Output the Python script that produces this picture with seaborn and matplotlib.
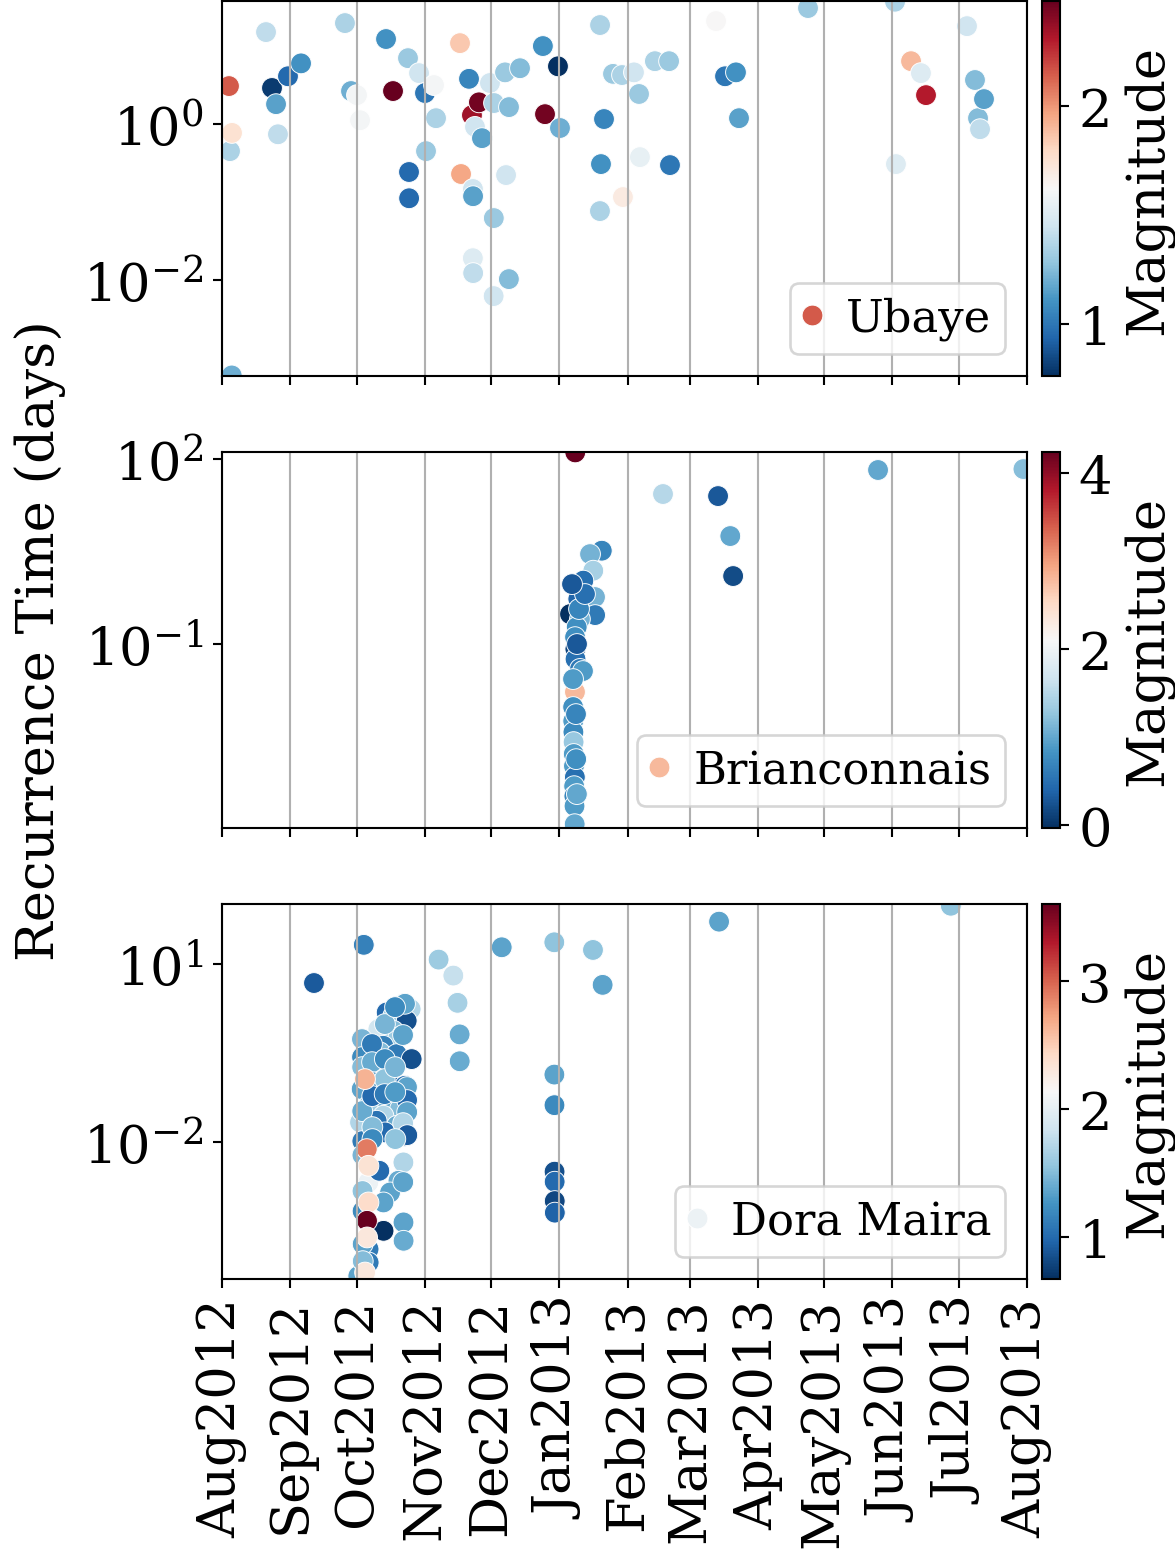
import numpy as np
import pandas as pd
import matplotlib
matplotlib.use("Agg")
import matplotlib.pyplot as plt
import matplotlib.dates as mdates
from matplotlib.colors import Normalize
from matplotlib.cm import ScalarMappable
from matplotlib.lines import Line2D
from matplotlib.ticker import NullLocator
import seaborn as sns

# ---------------------------------------------------------------- data
ubaye_time = [
    "2012-08-04 04:00", "2012-08-04 15:00", "2012-08-05 10:00", "2012-08-05 13:00",
    "2012-08-20 23:00", "2012-08-23 16:00", "2012-08-25 12:00", "2012-08-26 09:00",
    "2012-08-30 22:00", "2012-09-05 20:00", "2012-09-25 18:00", "2012-09-28 12:00",
    "2012-10-01 05:00", "2012-10-02 14:00", "2012-10-14 09:00", "2012-10-17 13:00",
    "2012-10-24 08:00", "2012-10-24 19:00", "2012-10-24 20:00", "2012-10-29 08:00",
    "2012-11-01 01:00", "2012-11-01 12:00", "2012-11-05 03:00", "2012-11-06 01:00",
    "2012-11-16 22:00", "2012-11-17 09:00", "2012-11-21 00:00", "2012-11-22 08:00",
    "2012-11-22 18:00", "2012-11-22 19:00", "2012-11-22 20:00", "2012-11-22 21:00",
    "2012-11-23 17:00", "2012-11-25 12:00", "2012-11-26 21:00", "2012-11-30 12:00",
    "2012-12-02 04:00", "2012-12-02 06:00", "2012-12-02 08:00", "2012-12-07 08:00",
    "2012-12-07 19:00", "2012-12-09 02:00", "2012-12-09 03:00", "2012-12-14 03:00",
    "2012-12-24 12:00", "2012-12-25 11:00", "2012-12-31 08:00", "2013-01-01 06:00",
    "2013-01-19 09:00", "2013-01-19 10:00", "2013-01-19 20:00", "2013-01-21 05:00",
    "2013-01-25 07:00", "2013-01-29 09:00", "2013-01-29 19:00", "2013-02-03 19:00",
    "2013-02-06 02:00", "2013-02-06 12:00", "2013-02-13 07:00", "2013-02-19 17:00",
    "2013-02-20 03:00", "2013-03-13 00:00", "2013-03-17 02:00", "2013-03-22 01:00",
    "2013-03-23 10:00", "2013-04-23 17:00", "2013-06-02 04:00", "2013-06-02 14:00",
    "2013-06-09 10:00", "2013-06-13 22:00", "2013-06-16 05:00", "2013-07-04 19:00",
    "2013-07-08 10:00", "2013-07-09 19:00", "2013-07-10 17:00", "2013-07-12 12:00",
]
ubaye_recurrence = [
    3.07, 0.45, 6.0e-4, 0.77,
    15.1, 2.9, 1.8, 0.74,
    4.1, 6.0, 19.7, 2.65,
    2.35, 1.12, 12.3, 2.65,
    7.0, 0.243, 0.112, 4.5,
    2.5, 0.45, 3.16, 1.19,
    10.9, 0.229, 3.8, 1.30,
    0.0191, 0.147, 0.119, 0.0123,
    0.92, 1.9, 0.66, 3.36,
    0.00624, 0.0624, 1.86, 4.6,
    0.222, 0.0103, 1.65, 5.2,
    10.0, 1.34, 5.5, 0.89,
    0.0767, 18.6, 0.307, 1.16,
    4.4, 4.25, 0.116, 4.6,
    2.43, 0.377, 6.4, 6.4,
    0.298, 20.9, 4.1, 4.6,
    1.19, 30.7, 37.0, 0.307,
    6.4, 4.5, 2.35, 18.0,
    3.67, 1.19, 0.86, 2.09,
]
ubaye_magnitude = [
    2.15, 1.35, 1.2, 1.75,
    1.4, 0.8, 1.15, 1.4,
    0.95, 1.1, 1.35, 1.2,
    1.6, 1.6, 1.1, 2.48,
    1.3, 0.95, 0.95, 1.45,
    1.0, 1.3, 1.6, 1.35,
    1.85, 1.95, 1.05, 2.35,
    1.5, 1.45, 1.15, 1.4,
    1.45, 2.45, 1.15, 1.45,
    1.45, 1.3, 1.35, 1.3,
    1.45, 1.25, 1.25, 1.25,
    1.1, 2.45, 0.76, 1.2,
    1.35, 1.35, 1.1, 1.05,
    1.3, 1.35, 1.7, 1.45,
    1.3, 1.55, 1.35, 1.3,
    1.0, 1.62, 1.0, 1.1,
    1.15, 1.3, 1.35, 1.5,
    1.9, 1.5, 2.3, 1.45,
    1.25, 1.25, 1.4, 1.15,
]

brian_time = [
    "2013-01-08 01:00", "2013-01-08 04:00", "2013-01-20 05:00", "2013-01-14 21:00",
    "2013-01-16 08:00", "2013-01-11 20:00", "2013-01-17 03:00", "2013-01-09 13:00",
    "2013-01-05 19:00", "2013-01-17 04:00", "2013-01-10 07:00", "2013-01-08 20:00",
    "2013-01-08 02:00", "2013-01-08 05:00", "2013-01-08 07:00", "2013-01-10 08:00",
    "2013-01-11 16:00", "2013-01-07 04:00", "2013-01-07 05:00", "2013-01-07 06:00",
    "2013-01-07 08:00", "2013-01-07 10:00", "2013-01-07 12:00", "2013-01-07 14:00",
    "2013-01-08 00:00", "2013-01-07 16:00", "2013-01-07 18:00", "2013-01-07 20:00",
    "2013-01-07 22:00", "2013-01-08 23:00", "2013-01-09 21:00",
    "2013-01-08 12:00", "2013-01-08 14:00", "2013-01-08 22:00", "2013-01-12 14:00",
    "2013-01-06 17:00", "2013-02-16 23:00", "2013-03-13 22:00", "2013-03-19 11:00",
    "2013-03-20 18:00", "2013-05-25 11:00", "2013-07-30 09:00",
]
brian_recurrence = [
    0.0168, 128.0, 3.27, 2.88,
    1.55, 1.07, 0.58, 0.54,
    0.307, 0.296, 0.255, 0.189,
    0.130, 0.0833, 0.0574, 0.0397,
    0.0367, 0.0272, 0.00957, 0.00568,
    0.00376, 0.00259, 0.00166, 0.00106,
    7.0e-4, 5.0e-4, 3.45e-4, 2.38e-4,
    1.21e-4, 0.1005, 0.371,
    0.00736, 0.00137, 3.72e-4, 0.649,
    0.94, 27.1, 25.1, 5.65,
    1.27, 66.4, 68.8,
]
brian_magnitude = [
    2.8, 4.24, 0.7, 1.1,
    1.4, 0.5, 1.1, 0.4,
    -0.03, 0.6, 1.1, 0.8,
    0.8, 0.15, 0.5, 0.6,
    0.9, 0.9, 0.8, 0.9,
    0.75, 1.3, 0.9, 0.9,
    0.5, 0.9, 0.7, 0.9,
    1.0, 0.3, 0.7,
    0.7, 0.8, 1.0, 0.5,
    0.3, 1.5, 0.3, 1.0,
    0.2, 1.0, 1.2,
]

dora_time = [
    "2012-10-06 08:00",
    "2012-09-11 17:00", "2012-10-04 07:00", "2012-11-07 05:00", "2012-11-13 21:00",
    "2012-11-15 19:00", "2012-11-16 18:00", "2012-11-16 19:00", "2012-12-05 20:00",
    "2012-12-29 16:00", "2012-12-29 17:00", "2012-12-29 18:00", "2012-12-29 19:00",
    "2012-12-29 20:00", "2012-12-29 21:00", "2012-12-29 22:00", "2013-01-16 05:00",
    "2013-01-20 14:00", "2013-03-14 09:00", "2013-06-27 11:00",
    "2012-10-22 05:00", "2012-10-25 13:00", "2012-10-14 16:00", "2012-10-17 16:00",
    "2012-10-23 18:00", "2012-10-10 21:00", "2012-10-17 17:00", "2012-10-19 23:00",
    "2012-10-13 03:00", "2012-10-07 21:00", "2012-10-11 15:00", "2012-10-19 05:00",
    "2012-10-26 00:00", "2012-10-05 15:00", "2012-10-16 04:00", "2012-10-09 09:00",
    "2012-10-16 23:00", "2012-10-22 23:00", "2012-10-03 08:00", "2012-10-11 16:00",
    "2012-10-23 00:00", "2012-10-06 09:00", "2012-10-15 10:00", "2012-10-20 17:00",
    "2012-10-13 04:00", "2012-10-10 03:00", "2012-10-19 06:00", "2012-10-05 16:00",
    "2012-10-13 22:00", "2012-10-22 22:00", "2012-10-05 17:00", "2012-10-02 14:00",
    "2012-10-11 08:00", "2012-10-22 06:00", "2012-10-20 00:00", "2012-10-16 05:00",
    "2012-10-13 05:00", "2012-10-13 06:00", "2012-10-22 07:00", "2012-10-22 08:00",
    "2012-10-06 11:00", "2012-10-06 12:00", "2012-10-01 19:00",
    "2012-10-22 23:30", "2012-10-22 02:00", "2012-10-23 21:00", "2012-10-23 22:00",
    "2012-10-23 23:00", "2012-10-22 03:00", "2012-10-24 00:00", "2012-10-22 04:00",
    "2012-10-03 11:00", "2012-10-03 12:00", "2012-10-03 13:00", "2012-10-03 14:00",
    "2012-10-03 15:00", "2012-10-03 16:00", "2012-10-03 17:00", "2012-10-03 18:00",
    "2012-10-03 19:00", "2012-10-03 20:00",
    "2012-10-08 00:00", "2012-10-08 01:00", "2012-10-08 02:00", "2012-10-08 03:00",
    "2012-10-08 04:00", "2012-10-08 05:00",
    "2012-10-13 21:00", "2012-10-13 20:00", "2012-10-13 19:00", "2012-10-13 18:00",
    "2012-10-18 11:00", "2012-10-18 12:00", "2012-10-18 13:00", "2012-10-18 14:00",
    "2012-10-04 20:00", "2012-10-05 15:30", "2012-10-06 09:30", "2012-10-06 10:00",
    "2012-10-05 18:00", "2012-10-05 19:00", "2012-10-04 21:00",
]
dora_recurrence = [
    0.00208,
    4.79, 21.1, 11.9, 6.40,
    2.22, 0.652, 0.230, 19.2,
    23.3, 0.137, 0.0418, 0.00316,
    0.00214, 0.00101, 6.44e-4, 17.3,
    4.46, 51.9, 96.2,
    2.12, 1.74, 1.53, 1.34,
    1.106, 0.80, 0.75, 0.58,
    0.419, 0.369, 0.324, 0.303,
    0.250, 0.234, 0.159, 0.131,
    0.0887, 0.0887, 0.078, 0.0528,
    0.0495, 0.0407, 0.0407, 0.0359,
    0.0277, 0.0228, 0.01876, 0.01876,
    0.01452, 0.01273, 0.01273, 0.02143,
    0.00327, 0.00453, 0.00222, 0.00141,
    9.57e-4, 3.18e-4, 4.41e-4, 2.16e-4,
    1.56e-4, 9.3e-5, 5.5e-5,
    2.14, 0.636, 0.0843, 0.0509,
    0.0319, 0.0208, 0.01306, 0.00211,
    0.543, 0.270, 0.183, 0.0332,
    0.01035, 0.00601, 0.00149, 6.84e-4,
    1.90e-4, 9.8e-5,
    0.448, 0.222, 0.1023, 0.0594,
    0.01782, 0.0112,
    0.973, 0.250, 0.115, 0.0642,
    1.88, 0.183, 0.0693, 0.0112,
    0.115, 0.00759, 0.00397, 9.57e-4,
    4.69e-4, 2.46e-4, 6.3e-5,
]
dora_magnitude = [
    2.05,
    0.9, 1.15, 1.6, 1.8,
    1.65, 1.4, 1.4, 1.35,
    1.55, 1.35, 1.2, 0.85,
    1.0, 0.8, 0.95, 1.55,
    1.35, 1.35, 1.55,
    1.6, 1.7, 1.0, 1.6,
    0.85, 1.85, 1.5, 1.6,
    1.15, 1.35, 1.5, 1.1,
    0.85, 1.65, 1.0, 1.35,
    0.9, 1.05, 1.35, 1.5,
    0.85, 1.6, 1.35, 1.5,
    1.7, 1.05, 1.4, 1.15,
    1.0, 0.85, 1.35, 1.7,
    1.0, 1.7, 1.4, 1.35,
    1.35, 0.67, 1.35, 1.4,
    1.1, 1.1, 1.35,
    1.35, 1.35, 1.35, 1.0,
    1.35, 1.7, 0.9, 1.35,
    1.45, 1.2, 1.5, 1.4,
    1.1, 1.45, 1.55, 1.2,
    1.35, 1.5,
    1.1, 1.4, 1.2, 1.0,
    1.5, 1.2,
    1.45, 1.2, 1.55, 1.1,
    1.2, 1.45, 1.3, 1.55,
    2.65, 2.9, 2.35, 2.4,
    3.6, 2.3, 2.3,
]

region_names = ["Ubaye", "Brianconnais", "Dora Maira"]
region_times = [ubaye_time, brian_time, dora_time]
region_recurrence = [ubaye_recurrence, brian_recurrence, dora_recurrence]
region_magnitude = [ubaye_magnitude, brian_magnitude, dora_magnitude]
region_ylim = [(5.9e-4, 37.8), (1.05e-4, 130.0), (4.9e-5, 103.0)]
region_yticks = [[1e-2, 1e0], [1e-1, 1e2], [1e-2, 1e1]]
region_cticks = [[1, 2], [0, 2, 4], [1, 2, 3]]

# ---------------------------------------------------------------- style
plt.rcParams.update({
    "font.family": ["DejaVu Serif"],
    "font.size": 20,
    "mathtext.fontset": "dejavuserif",
    "axes.linewidth": 0.8,
    "xtick.major.size": 3.5,
    "ytick.major.size": 3.5,
})

DPI = 190
fig = plt.figure(figsize=(1175 / DPI, 1550 / DPI), dpi=DPI)

left, width = 222 / 1175, 805 / 1175
cb_left, cb_width = 1042 / 1175, 18 / 1175
tops = [2, 453, 905]
heights = [375, 376, 375]

MARKER_S = 62
cmap = plt.get_cmap("RdBu_r")
axes = []
for i, name in enumerate(region_names):
    bottom = 1 - (tops[i] + heights[i]) / 1550
    h = heights[i] / 1550
    ax = fig.add_axes([left, bottom, width, h],
                      sharex=axes[0] if axes else None)
    axes.append(ax)

    df = pd.DataFrame({
        "time": pd.to_datetime(region_times[i]),
        "recurrence": region_recurrence[i],
        "magnitude": region_magnitude[i],
    })
    norm = Normalize(vmin=df["magnitude"].min(), vmax=df["magnitude"].max())

    sns.scatterplot(data=df, x="time", y="recurrence", hue="magnitude",
                    palette="RdBu_r", hue_norm=norm, s=MARKER_S,
                    edgecolor="white", linewidth=0.35, legend=False, ax=ax)
    ax.set_yscale("log")
    ax.set_ylim(*region_ylim[i])
    ax.set_yticks(region_yticks[i])
    ax.yaxis.set_minor_locator(NullLocator())
    ax.set_xlabel("")
    ax.set_ylabel("")
    ax.grid(axis="x", color="#b0b0b0", linewidth=0.8)

    first_color = cmap(norm(df["magnitude"].iloc[0]))
    handle = Line2D([], [], marker="o", linestyle="none",
                    markersize=np.sqrt(MARKER_S),
                    markerfacecolor=first_color, markeredgecolor="white",
                    markeredgewidth=0.35)
    ax.legend([handle], [name], loc="lower right", fontsize=17,
              borderpad=0.3, handlelength=0.4, handletextpad=0.55)

    cax = fig.add_axes([cb_left, bottom, cb_width, h])
    cb = fig.colorbar(ScalarMappable(norm=norm, cmap=cmap), cax=cax)
    cb.set_ticks(region_cticks[i])
    cb.set_label("Magnitude", fontsize=20)

for ax in axes:
    ax.set_xlim(pd.Timestamp("2012-08-01"), pd.Timestamp("2013-08-01"))
    ax.xaxis.set_major_locator(mdates.MonthLocator())
    ax.xaxis.set_major_formatter(mdates.DateFormatter("%b%Y"))
for ax in axes[:-1]:
    ax.tick_params(axis="x", labelbottom=False)
axes[-1].tick_params(axis="x", labelrotation=90)

axes[1].set_ylabel("Recurrence Time (days)", fontsize=20, labelpad=7)

fig.savefig("out.png", dpi=DPI)
